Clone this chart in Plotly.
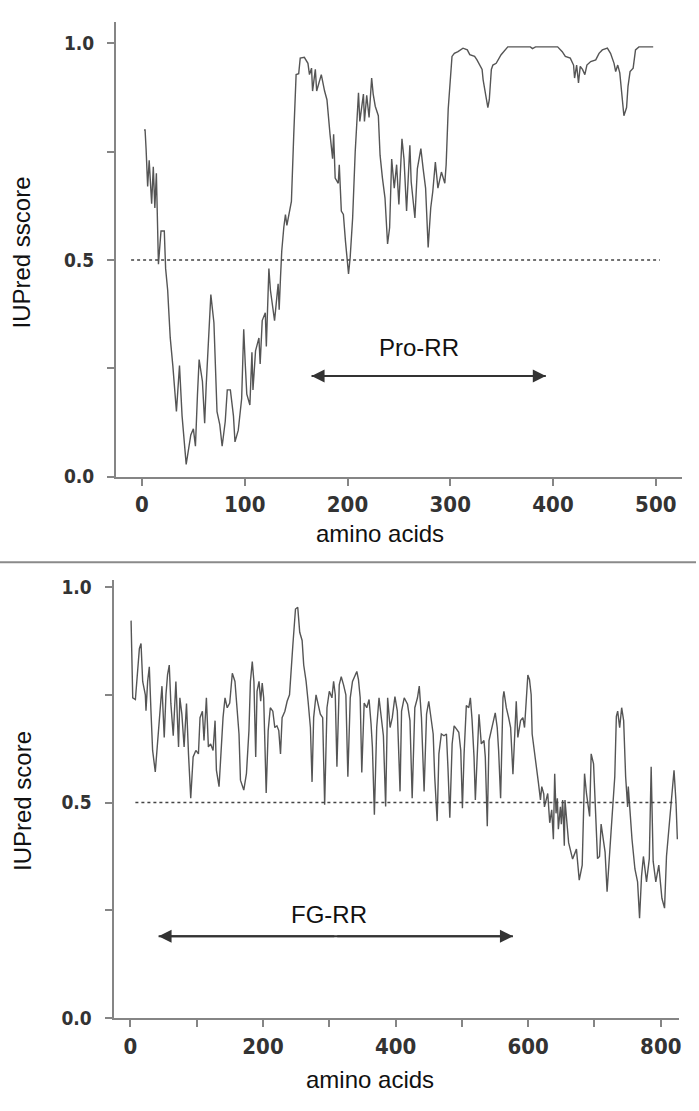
import plotly.graph_objects as go

# ---------------- data ----------------
top_x = [2, 3, 4, 5.5, 7, 9.4, 11, 12.5, 14, 15,
         16, 18.5, 21.7, 23, 25, 26, 27.5, 30, 33.5, 36.5,
         39, 43, 47.5, 50, 52, 54, 55.6, 58.8, 61, 62.5,
         64.6, 67, 70, 72, 73, 75.7, 78, 81, 83, 86,
         89, 90.5, 93.7, 97, 99, 100.5, 102, 105, 107, 108,
         110.5, 113.8, 115, 117, 120, 121, 123.5, 125, 129, 132.5,
         133.5, 134.8, 136, 138, 139.6, 141, 143.5, 145.4, 147.7, 150,
         152.5, 154, 158, 161.5, 163, 165, 166, 168.7, 170, 172,
         174.5, 177.7, 180, 183, 185.5, 186.5, 188, 191, 192, 194,
         196, 198, 200, 201, 202.6, 205, 207.5, 209, 210.7, 212,
         215.5, 216.5, 218.7, 221, 223.5, 225, 227, 230, 231.7, 234,
         236.5, 239, 241, 243, 245.5, 247.8, 250, 253, 255, 257.5,
         260.7, 262, 265.6, 268, 271.4, 273.6, 276, 278.5, 281, 283,
         285.5, 288, 291.4, 294.7, 296, 298, 299.5, 301.7, 304, 307.5,
         312.4, 316.6, 319, 323.7, 326, 328.6, 331, 332, 334, 336.6,
         338, 340, 341.5, 344.7, 349.5, 356, 378, 380, 383, 404.5,
         409, 412, 416.8, 420, 421, 423, 424.8, 426.5, 428.7, 431,
         433, 436.7, 441.6, 444.8, 448, 452.9, 456, 459.4, 461, 463,
         465, 467.4, 469, 471.6, 473, 475, 478, 480.3, 483.6, 497.5]
top_y = [0.80, 0.80, 0.755, 0.67, 0.73, 0.63, 0.715, 0.62, 0.70, 0.57,
         0.49, 0.567, 0.567, 0.48, 0.43, 0.385, 0.32, 0.256, 0.15, 0.256,
         0.14, 0.028, 0.096, 0.11, 0.07, 0.19, 0.27, 0.22, 0.123, 0.212,
         0.30, 0.42, 0.355, 0.225, 0.15, 0.12, 0.07, 0.127, 0.20, 0.20,
         0.14, 0.08, 0.107, 0.18, 0.34, 0.26, 0.19, 0.165, 0.287, 0.20,
         0.29, 0.32, 0.26, 0.36, 0.378, 0.30, 0.48, 0.43, 0.36, 0.445,
         0.385, 0.46, 0.52, 0.575, 0.605, 0.58, 0.61, 0.635, 0.79, 0.928,
         0.93, 0.966, 0.968, 0.954, 0.928, 0.943, 0.89, 0.94, 0.89, 0.909,
         0.928, 0.89, 0.87, 0.79, 0.734, 0.79, 0.689, 0.677, 0.72, 0.613,
         0.605, 0.544, 0.49, 0.468, 0.506, 0.597, 0.75, 0.818, 0.886, 0.82,
         0.883, 0.82, 0.88, 0.829, 0.92, 0.883, 0.855, 0.833, 0.742, 0.689,
         0.643, 0.537, 0.575, 0.733, 0.666, 0.72, 0.628, 0.78, 0.733, 0.613,
         0.765, 0.68, 0.597, 0.711, 0.757, 0.711, 0.666, 0.529, 0.62, 0.658,
         0.726, 0.666, 0.703, 0.677, 0.72, 0.848, 0.90, 0.97, 0.977, 0.981,
         0.989, 0.985, 0.974, 0.97, 0.962, 0.95, 0.94, 0.916, 0.89, 0.852,
         0.87, 0.94, 0.95, 0.954, 0.974, 0.992, 0.992, 0.988, 0.992, 0.992,
         0.981, 0.97, 0.966, 0.95, 0.92, 0.95, 0.909, 0.947, 0.94, 0.928,
         0.95, 0.958, 0.962, 0.977, 0.985, 0.989, 0.977, 0.954, 0.935, 0.95,
         0.932, 0.878, 0.833, 0.852, 0.901, 0.935, 0.943, 0.985, 0.992, 0.992]

bot_x = [1, 2, 3.5, 7.5, 11, 13.5, 16, 18.5, 22.5, 23.5,
         26, 28.5, 31, 33.5, 37.5, 41, 44.6, 47.6, 51, 53.6,
         56, 58.6, 61, 64.6, 68.6, 72.6, 74.6, 77.6, 81, 84.6,
         87.6, 91, 94.6, 98.7, 102.6, 105, 108.6, 111, 114.6, 117.6,
         121, 124.7, 127.7, 129.7, 133.7, 136, 139.7, 142.7, 146, 149.8,
         153.7, 157.7, 160, 163.8, 166, 171, 175, 178.8, 181, 183.8,
         186.3, 189, 191, 194, 196.5, 198.8, 201, 204.8, 207.8, 211,
         214.8, 217.8, 221, 223.8, 226.4, 228.8, 233, 236.4, 240, 243,
         245, 249, 252.4, 255.4, 259, 261.4, 265, 268, 271.5, 274,
         276.4, 280, 283, 286.5, 290, 293, 296.5, 300, 304, 306.5,
         309, 311.5, 315, 318, 321.5, 325, 328, 331.6, 335, 338,
         341.5, 344, 346.6, 349, 352.6, 356.5, 360, 363, 365, 368,
         371.5, 375, 378, 381.6, 385, 388, 391.7, 395, 399, 402.6,
         406.7, 409, 413, 418, 421.7, 425, 429, 433, 435.7, 439,
         443, 446.7, 450, 453, 456.7, 459, 462.7, 465.3, 469, 473,
         476.7, 479, 481.8, 485.3, 488.3, 491.7, 495.3, 498.3, 500.8, 503.3,
         506.7, 510.4, 512.8, 515.3, 518.3, 520.3, 523.3, 525.8, 529.3, 533.3,
         535.3, 538.3, 540.9, 544.3, 548.4, 550.3, 553.3, 555.4, 558.4, 562,
         563.4, 567, 570.5, 573.5, 577, 579.5, 582, 584.4, 588.5, 592,
         594.5, 597, 599.5, 602, 604.5, 606, 609.5, 613, 615.5, 618.5,
         620.5, 623.5, 624.5, 629.5, 632.5, 635.5, 638, 640, 642, 644,
         645.5, 648.6, 650, 652, 654.5, 655.5, 661, 667, 672.8, 677,
         681.5, 685, 688, 692.7, 695, 698.6, 704.6, 707.6, 710, 716,
         719, 725, 730.6, 733, 735, 738, 741, 744, 747, 750,
         751, 756.6, 761, 765, 768, 771, 773.8, 778.5, 782.7, 785.5,
         788.5, 792.5, 797, 801.7, 805.7, 808.6, 813, 817.3, 820, 823,
         825]
bot_y = [0.922, 0.846, 0.743, 0.739, 0.804, 0.857, 0.869, 0.781, 0.75, 0.713,
         0.781, 0.815, 0.712, 0.621, 0.571, 0.636, 0.697, 0.77, 0.651, 0.75,
         0.796, 0.819, 0.73, 0.655, 0.781, 0.629, 0.743, 0.705, 0.629, 0.73,
         0.613, 0.51, 0.606, 0.621, 0.613, 0.697, 0.712, 0.644, 0.743, 0.629,
         0.636, 0.621, 0.69, 0.575, 0.537, 0.602, 0.697, 0.743, 0.72, 0.731,
         0.80, 0.781, 0.73, 0.659, 0.552, 0.529, 0.567, 0.667, 0.781, 0.827,
         0.781, 0.606, 0.758, 0.781, 0.735, 0.777, 0.743, 0.522, 0.667, 0.72,
         0.712, 0.674, 0.678, 0.667, 0.613, 0.697, 0.712, 0.735, 0.75, 0.83,
         0.865, 0.949, 0.953, 0.895, 0.876, 0.819, 0.781, 0.735, 0.674, 0.548,
         0.697, 0.75, 0.728, 0.705, 0.697, 0.495, 0.72, 0.758, 0.743, 0.781,
         0.75, 0.583, 0.773, 0.792, 0.773, 0.75, 0.56, 0.743, 0.781, 0.792,
         0.804, 0.785, 0.743, 0.57, 0.731, 0.72, 0.739, 0.682, 0.629, 0.472,
         0.674, 0.743, 0.697, 0.655, 0.491, 0.743, 0.674, 0.697, 0.746, 0.712,
         0.526, 0.712, 0.743, 0.728, 0.69, 0.51, 0.72, 0.743, 0.77, 0.697,
         0.526, 0.705, 0.735, 0.697, 0.659, 0.56, 0.457, 0.613, 0.659, 0.655,
         0.659, 0.58, 0.465, 0.636, 0.678, 0.671, 0.663, 0.621, 0.487, 0.613,
         0.725, 0.72, 0.743, 0.693, 0.606, 0.506, 0.613, 0.705, 0.636, 0.644,
         0.606, 0.445, 0.644, 0.667, 0.697, 0.708, 0.674, 0.621, 0.51, 0.743,
         0.758, 0.72, 0.697, 0.674, 0.566, 0.659, 0.735, 0.651, 0.69, 0.697,
         0.674, 0.735, 0.796, 0.785, 0.75, 0.659, 0.621, 0.583, 0.545, 0.506,
         0.537, 0.52, 0.49, 0.521, 0.453, 0.483, 0.415, 0.567, 0.475, 0.51,
         0.438, 0.49, 0.45, 0.506, 0.40, 0.506, 0.407, 0.369, 0.392, 0.32,
         0.355, 0.567, 0.52, 0.468, 0.613, 0.59, 0.37, 0.375, 0.45, 0.385,
         0.293, 0.432, 0.56, 0.70, 0.712, 0.674, 0.72, 0.69, 0.56, 0.49,
         0.537, 0.415, 0.346, 0.316, 0.232, 0.33, 0.375, 0.316, 0.37, 0.583,
         0.364, 0.316, 0.355, 0.278, 0.255, 0.375, 0.45, 0.52, 0.575, 0.50,
         0.415]

threshold = 0.5
top_region = {"label": "Pro-RR", "start": 165, "end": 393}
bot_region = {"label": "FG-RR", "start": 42.5, "end": 577}
top_ticks = [0, 100, 200, 300, 400, 500]
top_ticklabels = ["0", "100", "200", "300", "400", "500"]
bot_ticks = [0, 100, 200, 300, 400, 500, 600, 700, 800]
bot_ticklabels = ["0", "", "200", "", "400", "", "600", "", "800"]
y_ticks = [0, 0.25, 0.5, 0.75, 1.0]
y_ticklabels = ["0.0", "", "0.5", "", "1.0"]

# ---------------- figure ----------------
W, H = 699, 1111
LINE = "#555555"
AX = "#858585"
TICKFONT = "DejaVu Sans Condensed, Liberation Sans Narrow, DejaVu Sans"
TXTFONT = "Liberation Sans, Arial, sans-serif"


def px(v):
    return v / W


def py(v):
    return 1 - v / H


fig = go.Figure()
fig.add_trace(go.Scatter(x=top_x, y=top_y, mode="lines", xaxis="x", yaxis="y",
                         line=dict(color=LINE, width=1.4), showlegend=False,
                         hoverinfo="skip"))
fig.add_trace(go.Scatter(x=bot_x, y=bot_y, mode="lines", xaxis="x2", yaxis="y2",
                         line=dict(color=LINE, width=1.4), showlegend=False,
                         hoverinfo="skip"))

axis_common = dict(showgrid=False, zeroline=False, showline=True, linecolor=AX,
                   linewidth=2, ticks="outside", ticklen=7, tickwidth=2,
                   tickcolor=AX)
xfont = dict(family=TICKFONT, size=22, color="#333333", weight="bold")
yfont = dict(family=TICKFONT, size=19, color="#333333", weight="bold")

fig.update_layout(
    width=W, height=H, margin=dict(l=0, r=0, t=0, b=0),
    paper_bgcolor="white", plot_bgcolor="white", showlegend=False,
    xaxis=dict(domain=[px(116.5), px(685)], range=[-25.3, 525.6], anchor="y",
               tickvals=top_ticks, ticktext=top_ticklabels, tickfont=xfont,
               **axis_common),
    yaxis=dict(domain=[py(479), py(18)], range=[0, 1.05], anchor="x",
               tickvals=y_ticks, ticktext=y_ticklabels, ticklabelstandoff=9,
               tickfont=yfont, **axis_common),
    xaxis2=dict(domain=[px(114), px(681.6)], range=[-25.5, 827], anchor="y2",
                tickvals=bot_ticks, ticktext=bot_ticklabels, tickfont=xfont,
                **axis_common),
    yaxis2=dict(domain=[py(1028), py(584)], range=[0, 1.016], anchor="x2",
                tickvals=y_ticks, ticktext=y_ticklabels, ticklabelstandoff=9,
                tickfont=yfont, **axis_common),
)

# threshold dotted lines
fig.add_shape(type="line", xref="x", yref="y", x0=-10.6, x1=504, y0=threshold,
              y1=threshold, line=dict(color="#444444", width=1.5, dash="dot"))
fig.add_shape(type="line", xref="x2", yref="y2", x0=7.5, x1=823, y0=threshold,
              y1=threshold, line=dict(color="#444444", width=1.5, dash="dot"))

# separator between panels
fig.add_shape(type="line", xref="paper", yref="paper", x0=0, x1=1, y0=py(566),
              y1=py(566), line=dict(color="#8a8a8a", width=2))


# region arrows and labels
def region(reg, xr, yr, ay, tdx, ty):
    mid = (reg["start"] + reg["end"]) / 2
    fig.add_shape(type="line", xref=xr, yref=yr, x0=reg["start"], x1=reg["end"],
                  y0=ay, y1=ay, line=dict(color="#333333", width=2))
    for end in (reg["start"], reg["end"]):
        fig.add_annotation(x=end, y=ay, ax=mid, ay=ay, xref=xr, yref=yr,
                           axref=xr, ayref=yr, text="", showarrow=True,
                           arrowhead=2, arrowsize=1.3, arrowwidth=2,
                           arrowcolor="#333333", standoff=0, startstandoff=0)
    fig.add_annotation(x=mid + tdx, y=ty, xref=xr, yref=yr, text=reg["label"],
                       showarrow=False, xanchor="center", yanchor="middle",
                       font=dict(family=TXTFONT, size=24, color="#111111"))


region(top_region, "x", "y", 0.232, -9, 0.298)
region(bot_region, "x2", "y2", 0.19, -10, 0.241)

# axis titles
titles = [
    ("IUPred sscore", 22, 252, -90),
    ("amino acids", 382, 537, 0),
    ("IUPred score", 22, 808, -90),
    ("amino acids", 372, 1090, 0),
]
for txt, tx, ty, ang in titles:
    fig.add_annotation(x=px(tx), y=py(ty), xref="paper", yref="paper", text=txt,
                       showarrow=False, textangle=ang, xanchor="center",
                       yanchor="middle",
                       font=dict(family=TXTFONT, size=24, color="#111111"))

page_fix = (
    "var h=document.documentElement,b=document.body;"
    "[h,b].forEach(function(e){e.style.margin='0';e.style.padding='0';"
    "e.style.overflow='hidden';e.style.height='1111px';e.style.width='699px';});"
    "if(b.firstElementChild){b.firstElementChild.style.fontSize='0';"
    "b.firstElementChild.style.lineHeight='0';}"
)
fig.write_html("out.html", config={"displayModeBar": False}, post_script=page_fix)
